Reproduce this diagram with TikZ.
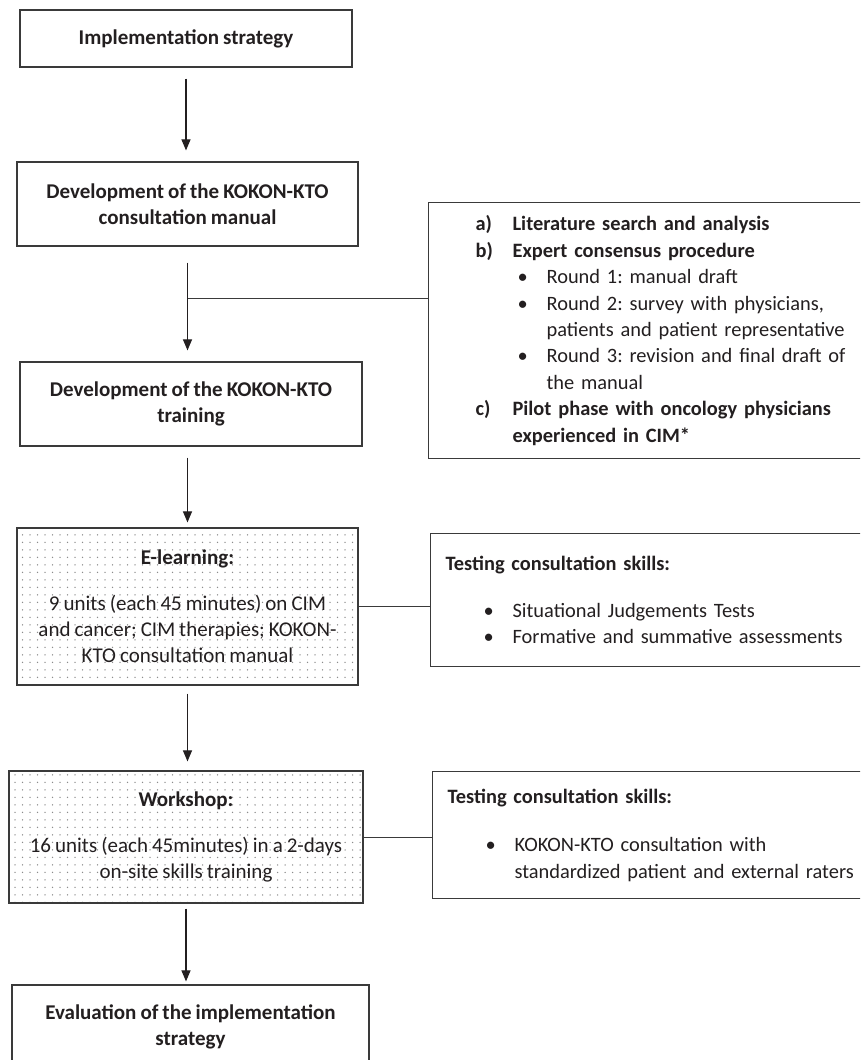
\documentclass[tikz,border=0pt]{standalone}
\usepackage{fontspec}
\setmainfont{Carlito}[WordSpace=0.85]
\usetikzlibrary{arrows.meta,patterns}

\definecolor{ink}{HTML}{231F20}
\definecolor{rulegray}{HTML}{3A3A3A}

% sparse dot raster for the training boxes
\pgfdeclarepatternformonly{sparsedots}{\pgfqpoint{-1pt}{-1pt}}{\pgfqpoint{1pt}{1pt}}{\pgfqpoint{7.5pt}{7.5pt}}{%
  \pgfpathcircle{\pgfqpoint{0pt}{0pt}}{0.75pt}\pgfusepath{fill}}

\newcommand{\bodyfont}{\frenchspacing\fontsize{21}{26.4}\selectfont}
\newcommand{\sidefont}{\frenchspacing\fontsize{20.4}{26.4}\selectfont}
\newcommand{\steplabel}[2]{\makebox[37pt][l]{\textbf{#1}}\textbf{#2}}
\newcommand{\dotitem}[1]{\makebox[29pt][l]{\textbullet}#1}

\begin{document}
\begin{tikzpicture}[x=1pt,y=-1pt,
  box/.style={draw=rulegray, line width=1.2pt, text=ink, font=\bodyfont\bfseries,
    align=center, inner sep=0pt},
  dotbox/.style={box, pattern=sparsedots, pattern color=black!45, font=\bodyfont},
  sidebox/.style={draw=rulegray, line width=1.2pt, text=ink, font=\sidefont,
    align=left, anchor=north west, text width=420pt, inner ysep=0pt},
  flow/.style={draw=ink, line width=1.1pt, -{Triangle[width=9pt,length=11pt]}},
  link/.style={draw=rulegray, line width=0.9pt}]
\clip (0,0) rectangle (860,1060);
\fill[white] (0,0) rectangle (860,1060);

% main column
\node[box, minimum width=332pt, minimum height=57pt] (impl) at (186,38.5)
  {Implementation strategy};
\node[box, minimum width=341pt, minimum height=84pt] (manual) at (187.5,204)
  {Development of the KOKON-KTO\\consultation manual};
\node[box, minimum width=342pt, minimum height=84pt] (training) at (191,404)
  {Development of the KOKON-KTO\\training};
\node[dotbox, minimum width=341pt, minimum height=157pt] (elearn) at (187.5,606.5)
  {\textbf{E-learning:}\\[19pt]9 units (each 45 minutes) on CIM\\and cancer; CIM therapies; KOKON-\\KTO consultation manual};
\node[dotbox, minimum width=354pt, minimum height=132pt] (workshop) at (186,837)
  {\textbf{Workshop:}\\[19pt]16 units (each 45minutes) in a 2-days\\on-site skills training};
\node[box, minimum width=357pt, minimum height=84pt] (evalbox) at (190.5,1027)
  {Evaluation of the implementation\\strategy};

% side boxes
\node[sidebox, inner xsep=47pt, minimum height=256pt] (lit) at (428,202)
  {\steplabel{a)}{Literature search and analysis}\\
   \steplabel{b)}{Expert consensus procedure}\\
   \hspace*{42pt}\dotitem{Round 1: manual draft}\\
   \hspace*{42pt}\dotitem{Round 2: survey with physicians,}\\
   \hspace*{71pt}patients and patient representative\\
   \hspace*{42pt}\dotitem{Round 3: revision and final draft of}\\
   \hspace*{71pt}the manual\\
   \steplabel{c)}{Pilot phase with oncology physicians}\\
   \hspace*{37pt}\textbf{experienced in CIM*}};
\node[sidebox, inner xsep=15pt, minimum height=133pt] (skillsA) at (430,533)
  {\textbf{Testing consultation skills:}\\[20pt]
   \hspace*{38pt}\dotitem{Situational Judgements Tests}\\
   \hspace*{38pt}\dotitem{Formative and summative assessments}};
\node[sidebox, inner xsep=15pt, minimum height=127pt] (skillsB) at (432,771)
  {\textbf{Testing consultation skills:}\\[22pt]
   \hspace*{38pt}\dotitem{KOKON-KTO consultation with}\\
   \hspace*{67pt}standardized patient and external raters};

% arrows
\draw[flow, shorten <=11pt, shorten >=11pt] (impl.south) -- (impl.south |- manual.north);
\draw[flow, shorten <=16pt, shorten >=11pt] (manual.south) -- (manual.south |- training.north);
\draw[flow, shorten <=11pt, shorten >=5pt] (elearn.north |- training.south) -- (elearn.north);
\draw[flow, shorten <=8pt, shorten >=9pt] (elearn.south) -- (elearn.south |- workshop.north);
\draw[flow, shorten <=5pt, shorten >=3pt] (workshop.south) -- (workshop.south |- evalbox.north);

% side links
\coordinate (fork) at (187.5,298);
\draw[link] (fork) -- (fork -| lit.west);
\draw[link] (elearn.east) -- (elearn.east -| skillsA.west);
\draw[link] (workshop.east) -- (workshop.east -| skillsB.west);

\end{tikzpicture}
\end{document}
